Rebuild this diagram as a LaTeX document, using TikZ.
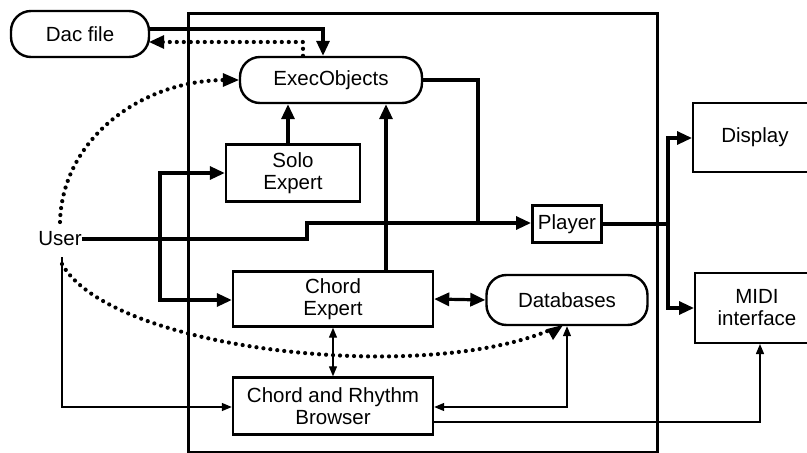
\documentclass[tikz,border=0pt]{standalone}
\usepackage{fontspec}
\setmainfont{Liberation Sans}
\usetikzlibrary{arrows.meta}
\tikzset{
  box/.style={draw, line width=2.4pt, inner sep=0pt, align=center, font=\fontsize{20.5}{22}\selectfont},
  pill/.style={box, rounded corners=20pt},
  thickline/.style={line width=3.2pt},
  thinline/.style={line width=1.3pt},
  bigtip/.style={-{Triangle[length=15pt,width=13pt]}},
  bigtips/.style={{Triangle[length=15pt,width=13pt]}-{Triangle[length=15pt,width=13pt]}},
  smalltip/.style={-{Triangle[length=10pt,width=8pt]}},
  smalltips/.style={{Triangle[length=10pt,width=8pt]}-{Triangle[length=10pt,width=8pt]}},
  dotline/.style={line width=4.2pt, line cap=round, dash pattern=on 0pt off 7pt},
}
\begin{document}
\begin{tikzpicture}[x=1pt,y=-1pt]
\clip (0,0) rectangle (807,453);
\fill[white] (0,0) rectangle (807,453);
% frame
\draw[line width=3pt] (188,13) rectangle (657,452);
% nodes
\node[pill, minimum width=138pt, minimum height=46pt] (dac) at (80,34) {Dac file};
\node[pill, minimum width=182pt, minimum height=46pt] (exec) at (331,80) {ExecObjects};
\node[box, minimum width=134pt, minimum height=57pt] (solo) at (293,173) {Solo\\Expert};
\node[box, minimum width=200pt, minimum height=55pt] (chord) at (333,299) {Chord\\Expert};
\node[pill, minimum width=161pt, minimum height=50pt] (db) at (567,300) {Databases};
\node[box, minimum width=200pt, minimum height=57pt] (crb) at (333,406) {Chord and Rhythm\\Browser};
\node[box, minimum width=69pt, minimum height=37pt, line width=3pt] (player) at (567,224) {Player};
\node[box, line width=2pt, minimum width=124pt, minimum height=69pt] (display) at (755,137) {Display};
\node[box, line width=2pt, minimum width=124pt, minimum height=70pt] (midi) at (757,308) {MIDI\\interface};
\node[inner sep=0pt, font=\fontsize{20.5}{22}\selectfont] (user) at (60,239) {User};
% coordinates
\coordinate (u1) at (62,257);
\coordinate (dc1) at (323,29);
\coordinate (dd1) at (303,42);
% Dac <-> Exec
\draw[thickline, bigtip] (dac.east |- dc1) -- (dc1) -- (exec.north -| dc1);
\draw[dotline] (exec.north -| dd1) -- (dd1) -- (dac.east |- dd1);
\fill ([xshift=-1pt]dac.east |- dd1) -- ++(15,-7) -- ++(0,14) -- cycle;
% User dotted curves
\draw[dotline] (60,222) .. controls (62,140) and (140,80) .. (226,80);
\fill (exec.west) -- ++(-16,-7) -- ++(0,14) -- cycle;
\draw[dotline] (62,264) .. controls (110,350) and (420,385) .. (550,330);
\fill (563,325) -- ++(-16,4) -- ++(6,11) -- cycle;
% Exec -> Player, User -> Player
\draw[thickline] (exec.east) -- (478,80) -- (478,223);
\draw[thickline, bigtip] (user.east) -- (307,239) -- (307,223) -- (player.west |- 0,223);
% Solo/Chord -> Exec
\draw[thickline, bigtip] (solo.north -| 288,0) -- (exec.south -| 288,0);
\draw[thickline, bigtip] (chord.north -| 386,0) -- (exec.south -| 386,0);
% bracket into Solo and Chord
\draw[thickline, bigtip] (160,239) -- (160,173) -- (solo.west |- 0,173);
\draw[thickline, bigtip] (160,239) -- (160,300) -- (chord.west |- 0,300);
% Chord <-> Databases
\draw[thickline, bigtips] (chord.east) -- (db.west);
% Chord <-> Browser
\draw[thinline, smalltips] (chord.south) -- (crb.north);
% User -> Browser
\draw[thinline, smalltip] (u1) -- (62,407) -- (crb.west |- 0,407);
% Databases <-> Browser
\draw[thinline, smalltips] (db.south) -- (567,407) -- (crb.east |- 0,407);
% Browser -> MIDI
\draw[thinline, smalltip] (crb.east |- 0,422) -- (760,422) -- (midi.south -| 760,0);
% Player -> Display, MIDI
\draw[thickline] (player.east) -- (668,224);
\draw[thickline, bigtip] (668,224) -- (668,138) -- (display.west |- 0,138);
\draw[thickline, bigtip] (668,224) -- (668,308) -- (midi.west);
\end{tikzpicture}
\end{document}
